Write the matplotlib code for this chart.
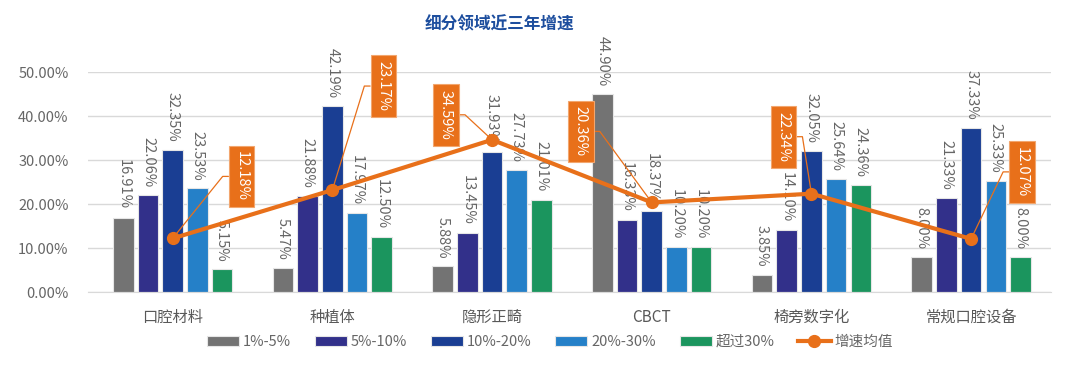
import math
import numpy as np
import matplotlib
matplotlib.use('Agg')
import matplotlib.pyplot as plt

plt.rcParams['font.family'] = ['Noto Sans CJK SC', 'DejaVu Sans']

# data (percent)
categories = ['口腔材料', '种植体', '隐形正畸', 'CBCT', '椅旁数字化', '常规口腔设备']
series_names = ['1%-5%', '5%-10%', '10%-20%', '20%-30%', '超过30%']
r1_5 = [16.91, 5.47, 5.88, 44.90, 3.85, 8.00]
r5_10 = [22.06, 21.88, 13.45, 16.33, 14.10, 21.33]
r10_20 = [32.35, 42.19, 31.93, 18.37, 32.05, 37.33]
r20_30 = [23.53, 17.97, 27.73, 10.20, 25.64, 25.33]
over30 = [5.15, 12.50, 21.01, 10.20, 24.36, 8.00]
avg_growth = [12.18, 23.17, 34.59, 20.36, 22.34, 12.07]
avg_name = '增速均值'

colors = ['#737373', '#32308A', '#1A3E93', '#2580C8', '#1B955E']
orange = '#E8701A'
txt_gray = '#666666'

# label box placement for the average line (pixels from the point)
box_offsets = [(69, 62), (51, 104), (-46, 25), (-71, 71), (-28, 57), (51, 67)]

fig = plt.figure(figsize=(10.8, 3.7), dpi=100)
ax = fig.add_axes([88 / 1080, 1 - 292 / 370, (1051 - 88) / 1080, 220 / 370])

x = np.arange(len(categories))
slot = 0.1546
width = 0.129
all_series = [r1_5, r5_10, r10_20, r20_30, over30]
for k, (vals, name, c) in enumerate(zip(all_series, series_names, colors)):
    pos = x + (k - 2) * slot
    ax.bar(pos, np.array(vals) / 100, width, color=c, label=name,
           edgecolor='#E6E6E6', linewidth=0.8, zorder=2)
    for xi, v in zip(pos, vals):
        ax.annotate('%.2f%%' % v, (xi, v / 100), xytext=(0, 8),
                    textcoords='offset pixels', rotation=270,
                    ha='center', va='bottom', fontsize=10.5, color=txt_gray,
                    zorder=3)

avg = np.array(avg_growth) / 100
ax.plot(x, avg, color=orange, linewidth=3, marker='o', markersize=8.5,
        label=avg_name, zorder=4)

for xi, v, (dx, dy) in zip(x, avg_growth, box_offsets):
    # elbow sits 7 px beside the box; leader runs from the point to it
    half_w = 12
    ex = dx - half_w - 7 if dx > 0 else dx + half_w + 7
    angle = math.degrees(math.atan2(dy, ex))
    relx = 0 if dx > 0 else 1
    ax.annotate('%.2f%%' % v, (xi, v / 100), xytext=(dx, dy),
                textcoords='offset pixels', rotation=270,
                ha='center', va='center', fontsize=10.5, color='white',
                bbox=dict(boxstyle='square,pad=0.4', fc=orange, ec='#F2A66E', lw=0.8),
                arrowprops=dict(arrowstyle='-', color=orange, lw=0.9,
                                shrinkA=0, shrinkB=0, relpos=(relx, 0.5),
                                connectionstyle='angle,angleA=0,angleB=%.1f,rad=0' % angle),
                zorder=5)

ax.set_xlim(-0.53, 5.5)
ax.set_ylim(0, 0.5)
ticks = np.arange(0, 0.51, 0.1)
ax.set_yticks(ticks)
ax.set_yticklabels(['%.2f%%' % (t * 100) for t in ticks])
ax.set_xticks(x)
ax.set_xticklabels(categories)
ax.tick_params(axis='x', length=0, pad=12, labelsize=11, labelcolor='#595959')
ax.tick_params(axis='y', length=0, pad=14, labelsize=10.5, labelcolor=txt_gray)
ax.grid(axis='y', color='#D9D9D9', linewidth=1, zorder=0)
for s in ['top', 'right', 'left']:
    ax.spines[s].set_visible(False)
ax.spines['bottom'].set_color('#D9D9D9')
ax.set_axisbelow(True)

fig.text(499 / 1080, 1 - 24 / 370, '细分领域近三年增速', ha='center', va='center',
         fontsize=12, fontweight='bold', color='#1D4E9E')

handles, labels = ax.get_legend_handles_labels()
order = [1, 2, 3, 4, 5, 0]
fig.legend([handles[i] for i in order], [labels[i] for i in order],
           loc='center', bbox_to_anchor=(550 / 1080, 1 - 342 / 370), ncol=6,
           frameon=False, fontsize=10.5, labelcolor=txt_gray,
           handlelength=2.2, handleheight=0.7, handletextpad=0.3,
           columnspacing=1.6)

fig.savefig('out.png', dpi=100)
